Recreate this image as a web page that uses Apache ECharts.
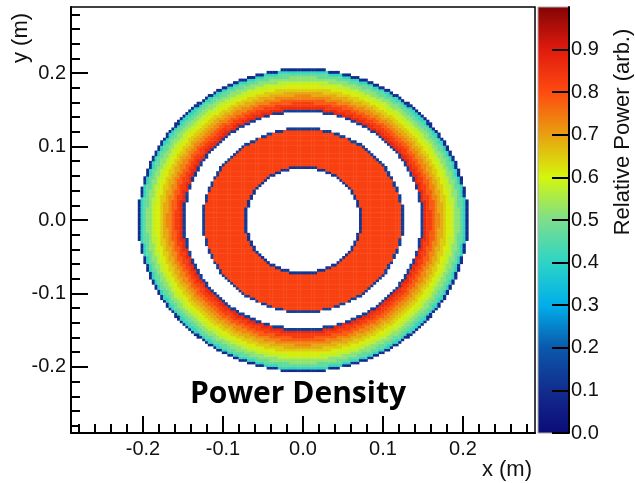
<!DOCTYPE html>
<html>
<head>
  <meta charset="utf-8">
</head>
<body style="height: 100%; margin: 0; background: #fff">
  <div id="container" style="width: 635px; height: 483px"></div>

  <script type="text/javascript" src="https://fastly.jsdelivr.net/npm/echarts@6/dist/echarts.min.js"></script>

  <script type="text/javascript">
    // radial profile: bin edges (m) and relative power per bin
    // (null = empty gap between the two rings)
    var radiusEdges = [0.0705, 0.0740, 0.1230, 0.1260, 0.1475, 0.1505, 0.155, 0.160, 0.165,
                       0.170, 0.175, 0.180, 0.185, 0.190, 0.195, 0.200, 0.2035, 0.2065];
    var binPower = [0.12, 0.82, 0.14, null, 0.14, 0.87, 0.83, 0.78, 0.73, 0.69,
                    0.65, 0.61, 0.57, 0.52, 0.47, 0.41, 0.1];
    var binWidth = 0.0035;

    var majorTicks = [-0.2, -0.1, 0, 0.1, 0.2];
    var minorTicks = [-0.28, -0.26, -0.24, -0.22, -0.18, -0.16, -0.14, -0.12,
                      -0.08, -0.06, -0.04, -0.02, 0.02, 0.04, 0.06, 0.08,
                      0.12, 0.14, 0.16, 0.18, 0.22, 0.24, 0.26, 0.28];
    var palette = ['#0b0b78', '#122c8e', '#0b58aa', '#00aeea', '#2cd4c6', '#7cde8c',
                   '#d4f60c', '#e8a010', '#ff4a10', '#e01a0e', '#820404'];

    var cells = [];
    for (var i = -60; i < 60; i++) {
      for (var j = -60; j < 60; j++) {
        var x = (i + 0.5) * binWidth, y = (j + 0.5) * binWidth;
        var r = Math.sqrt(x * x + y * y);
        for (var k = 0; k < binPower.length; k++) {
          if (r >= radiusEdges[k] && r < radiusEdges[k + 1]) {
            if (binPower[k] != null) cells.push([x, y, binPower[k]]);
            break;
          }
        }
      }
    }

    // colour bar: same palette, top = 1.0
    var barStops = palette.map(function (c, n) {
      return { offset: 1 - n / (palette.length - 1), color: c };
    }).reverse();

    var dom = document.getElementById('container');
    var myChart = echarts.init(dom, null, { renderer: 'canvas' });
    var font = 'Liberation Sans';
    var fmt = function (v) { return v.toFixed(1); };

    var option = {
      animation: false,
      backgroundColor: '#fff',
      grid: [
        // main plot
        { left: 71, top: 7, width: 464, height: 426, show: true, borderColor: '#000', borderWidth: 1.5 },
        // colour bar
        { left: 538, top: 7, width: 31, height: 426, show: true, borderColor: '#aaa', borderWidth: 1,
          backgroundColor: new echarts.graphic.LinearGradient(0, 0, 0, 1, barStops) },
        // same box as the main plot, only for the minor ticks
        { left: 71, top: 7, width: 464, height: 426, show: false }
      ],
      xAxis: [
        {
          type: 'value', gridIndex: 0, min: -0.29, max: 0.29, position: 'bottom',
          axisLine: { onZero: false, lineStyle: { color: '#000', width: 2 } },
          axisTick: { inside: true, length: 17, customValues: majorTicks, lineStyle: { color: '#000', width: 2 } },
          axisLabel: { customValues: majorTicks, margin: 6, fontFamily: font, fontSize: 20, color: '#111', formatter: fmt },
          splitLine: { show: false }
        },
        { type: 'value', gridIndex: 1, min: 0, max: 1, show: false },
        {
          type: 'value', gridIndex: 2, min: -0.29, max: 0.29, position: 'bottom',
          axisLine: { show: false, onZero: false },
          axisTick: { inside: true, length: 9, customValues: minorTicks, lineStyle: { color: '#000', width: 2 } },
          axisLabel: { show: false },
          splitLine: { show: false }
        }
      ],
      yAxis: [
        {
          type: 'value', gridIndex: 0, min: -0.29, max: 0.29, position: 'left',
          axisLine: { onZero: false, lineStyle: { color: '#000', width: 2 } },
          axisTick: { inside: true, length: 17, customValues: majorTicks, lineStyle: { color: '#000', width: 2 } },
          axisLabel: { customValues: majorTicks, margin: 5, fontFamily: font, fontSize: 20, color: '#111', formatter: fmt },
          splitLine: { show: false }
        },
        {
          type: 'value', gridIndex: 1, min: 0, max: 1, interval: 0.1, position: 'right',
          axisLine: { show: true, onZero: false, lineStyle: { color: '#000', width: 2 } },
          axisTick: { show: true, inside: true, length: 17, lineStyle: { color: '#000', width: 2 } },
          axisLabel: { margin: 2, fontFamily: font, fontSize: 20, color: '#111', showMaxLabel: false, formatter: fmt },
          splitLine: { show: false }
        },
        {
          type: 'value', gridIndex: 2, min: -0.29, max: 0.29, position: 'left',
          axisLine: { show: false, onZero: false },
          axisTick: { inside: true, length: 9, customValues: minorTicks, lineStyle: { color: '#000', width: 2 } },
          axisLabel: { show: false },
          splitLine: { show: false }
        }
      ],
      visualMap: {
        type: 'continuous', show: false, min: 0, max: 1, dimension: 2, seriesIndex: 0,
        inRange: { color: palette }
      },
      graphic: [
        { type: 'text', x: 21, y: 38, rotation: Math.PI / 2,
          style: { text: 'y (m)', x: 0, y: 0, align: 'center', verticalAlign: 'middle', fontFamily: font, fontSize: 22, fill: '#111' } },
        { type: 'text', x: 532, y: 470,
          style: { text: 'x (m)', x: 0, y: 0, align: 'right', verticalAlign: 'middle', fontFamily: font, fontSize: 22, fill: '#111' } },
        { type: 'text', x: 623, y: 132, rotation: Math.PI / 2,
          style: { text: 'Relative Power (arb.)', x: 0, y: 0, align: 'center', verticalAlign: 'middle', fontFamily: font, fontSize: 22, fill: '#111' } },
        { type: 'text', x: 298, y: 394,
          style: { text: 'Power Density', x: 0, y: 0, align: 'center', verticalAlign: 'middle', fontFamily: 'Open Sans', fontWeight: 'bold', fontSize: 30, fill: '#000' } }
      ],
      series: [
        {
          type: 'custom', xAxisIndex: 0, yAxisIndex: 0, progressive: 0,
          data: cells,
          renderItem: function (params, api) {
            var h = binWidth / 2;
            var p0 = api.coord([api.value(0) - h, api.value(1) + h]);
            var p1 = api.coord([api.value(0) + h, api.value(1) - h]);
            return {
              type: 'rect',
              shape: { x: p0[0], y: p0[1], width: p1[0] - p0[0] + 0.4, height: p1[1] - p0[1] + 0.4 },
              style: { fill: api.visual('color') }
            };
          }
        }
      ]
    };

    myChart.setOption(option);
    window.addEventListener('resize', myChart.resize);
  </script>
</body>
</html>
